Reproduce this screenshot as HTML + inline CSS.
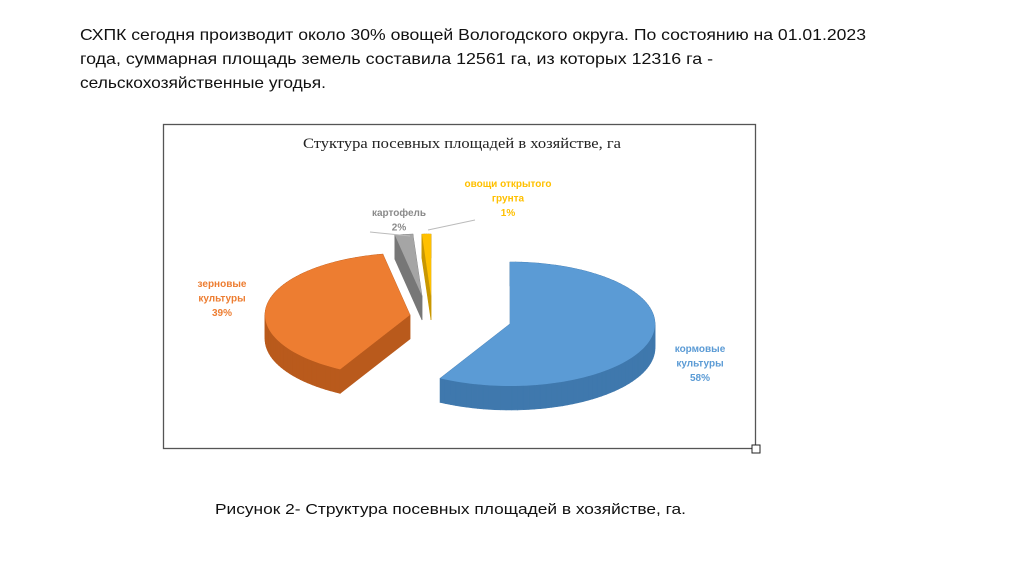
<!DOCTYPE html>
<html><head><meta charset="utf-8">
<style>
html,body{margin:0;padding:0;background:#fff;}
svg{display:block;}
.t{font-family:"Liberation Sans","Noto Sans CJK SC",sans-serif;fill:#111;}
.lbl{font-family:"Liberation Sans",sans-serif;font-size:10px;font-weight:bold;text-anchor:middle;}
</style></head>
<body>
<svg id="svg" width="1024" height="574" viewBox="0 0 1024 574" xmlns="http://www.w3.org/2000/svg">
<text class="t" x="80" y="40" font-size="16" textLength="786" lengthAdjust="spacingAndGlyphs"> СХПК сегодня производит около 30% овощей Вологодского округа. По состоянию на 01.01.2023</text>
<text class="t" x="80" y="64" font-size="16" textLength="633" lengthAdjust="spacingAndGlyphs">года, суммарная площадь земель составила 12561 га, из которых 12316 га -</text>
<text class="t" x="80" y="88" font-size="16" textLength="246" lengthAdjust="spacingAndGlyphs">сельскохозяйственные угодья.</text>
<rect x="163.5" y="124.5" width="592" height="324" fill="#fff" stroke="#555" stroke-width="1.3"/>
<rect x="752" y="445" width="8" height="8" fill="#fff" stroke="#222" stroke-width="1"/>
<text x="462" y="148" font-family="Liberation Serif,serif" font-size="14.5" text-anchor="middle" fill="#222" textLength="318" lengthAdjust="spacingAndGlyphs">Стуктура посевных площадей в хозяйстве, га</text>
<g id="pie"></g>
<g id="labels"></g>
<text class="t" x="215" y="514" font-size="15" textLength="471" lengthAdjust="spacingAndGlyphs">Рисунок 2- Структура посевных площадей в хозяйстве, га.</text>
</svg>
<script>
const categories = ["кормовые культуры","зерновые культуры","картофель","овощи открытого грунта"];
const values = [58, 39, 2, 1];
const colors = ["#5b9bd5","#ed7d31","#a5a5a5","#ffc000"];
const darks = ["#3f78ad","#b95a1c","#777777","#c99700"];
const centersX = [510, 410, 422, 431];
const centersY = [324, 315, 296, 296];
const labelLines = [["кормовые","культуры","58%"],["зерновые","культуры","39%"],["картофель","2%"],["овощи открытого","грунта","1%"]];
const labelX = [700, 222, 399, 508];
const labelY = [352, 287, 216, 187];

const NS="http://www.w3.org/2000/svg";
const RX=145, RY=62, DEPTH=24;
const total = values.reduce((a,b)=>a+b,0);
function pt(cx,cy,a){return [cx+RX*Math.sin(a), cy-RY*Math.cos(a)];}
const pie=document.getElementById('pie');
const order=[2,3,1,0];
let starts=[];let acc=0;
values.forEach((v,i)=>{starts.push(acc);acc+=v;});
order.forEach(i=>{
  const a0=starts[i]/total*2*Math.PI, a1=(starts[i]+values[i])/total*2*Math.PI;
  const cx=centersX[i], cy=centersY[i];
  const n=Math.max(4,Math.ceil((a1-a0)/0.04));
  const pts=[[cx,cy]];
  for(let k=0;k<=n;k++)pts.push(pt(cx,cy,a0+(a1-a0)*k/n));
  const g=document.createElementNS(NS,'g');
  
  
  const quads=[];
  for(let k=0;k<pts.length;k++){
    const p=pts[k],q=pts[(k+1)%pts.length];
    quads.push([p,q]);
  }
  quads.sort((A,B)=>(A[0][1]+A[1][1])-(B[0][1]+B[1][1]));
  quads.forEach(([p,q])=>{
    const w=document.createElementNS(NS,'polygon');
    w.setAttribute('points',`${p[0]},${p[1]} ${q[0]},${q[1]} ${q[0]},${q[1]+DEPTH} ${p[0]},${p[1]+DEPTH}`);
    w.setAttribute('fill',darks[i]);w.setAttribute('stroke',darks[i]);w.setAttribute('stroke-width','0.6');
    
    
    g.appendChild(w);
  });
  const top=document.createElementNS(NS,'polygon');
  top.setAttribute('points',pts.map(p=>p.join(',')).join(' '));
  top.setAttribute('fill',colors[i]);
  
  
  g.appendChild(top);
  pie.appendChild(g);
});
const lg=document.getElementById('labels');
labelLines.forEach((lines,i)=>{
  lines.forEach((s,j)=>{
    const t=document.createElementNS(NS,'text');
    t.setAttribute('class','lbl');
    t.setAttribute('x',labelX[i]);t.setAttribute('y',labelY[i]+j*14.5);
    t.setAttribute('fill',i===2?'#8a8a8a':colors[i]);
    
    
    t.textContent=s;lg.appendChild(t);
  });
});
const leaders=[[[370,232],[410,236]],[[428,230],[475,220]]];
leaders.forEach(l=>{
  const p=document.createElementNS(NS,'polyline');
  p.setAttribute('points',l.map(x=>x.join(',')).join(' '));
  p.setAttribute('fill','none');p.setAttribute('stroke','#bbb');p.setAttribute('stroke-width','1');
  
  
  lg.appendChild(p);
});
</script>
</body></html>
